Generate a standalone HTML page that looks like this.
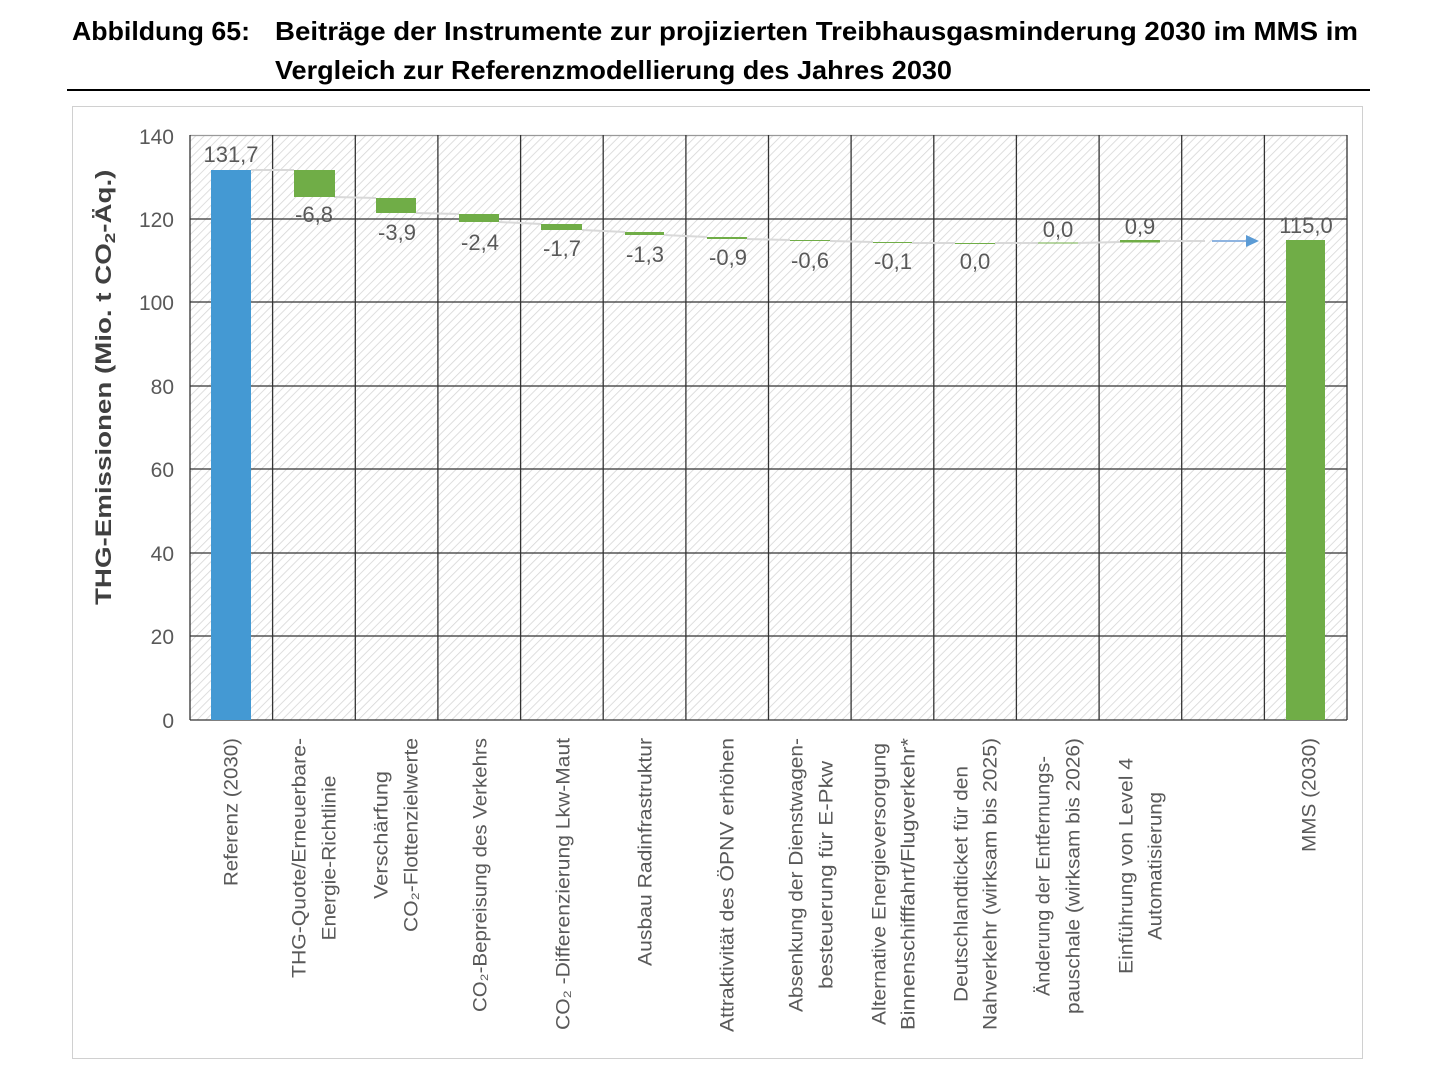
<!DOCTYPE html>
<html><head><meta charset="utf-8"><style>
html,body{margin:0;padding:0;background:#fff;}
svg{display:block;font-family:"Liberation Sans",sans-serif;}
</style></head><body>
<svg width="1440" height="1070" viewBox="0 0 1440 1070" xmlns="http://www.w3.org/2000/svg">
<defs>
<pattern id="h" patternUnits="userSpaceOnUse" width="6" height="6" patternTransform="rotate(45)">
<rect width="6" height="6" fill="#fff"/><line x1="0" y1="0" x2="0" y2="6" stroke="#d6d6d6" stroke-width="1.6"/>
</pattern>
</defs>
<text x="72" y="40" font-size="26" font-weight="bold" fill="#000" textLength="178" lengthAdjust="spacingAndGlyphs">Abbildung 65:</text>
<text x="275" y="40" font-size="26" font-weight="bold" fill="#000" textLength="1083" lengthAdjust="spacingAndGlyphs">Beiträge der Instrumente zur projizierten Treibhausgasminderung 2030 im MMS im</text>
<text x="275" y="79" font-size="26" font-weight="bold" fill="#000" textLength="677" lengthAdjust="spacingAndGlyphs">Vergleich zur Referenzmodellierung des Jahres 2030</text>
<rect x="67" y="89" width="1303" height="2" fill="#000"/>
<rect x="72.5" y="106.5" width="1290" height="952" fill="#fff" stroke="#d0d0d0"/>
<rect x="190" y="135" width="1157" height="585" fill="url(#h)"/>
<g stroke="#333" stroke-width="1.3">
<line x1="190" y1="135.5" x2="1347" y2="135.5" stroke="#999"/>
<line x1="190" y1="219" x2="1347" y2="219"/>
<line x1="190" y1="302" x2="1347" y2="302"/>
<line x1="190" y1="386" x2="1347" y2="386"/>
<line x1="190" y1="469" x2="1347" y2="469"/>
<line x1="190" y1="553" x2="1347" y2="553"/>
<line x1="190" y1="636" x2="1347" y2="636"/>
<line x1="190" y1="720" x2="1347" y2="720"/>
<line x1="190" y1="135" x2="190" y2="720"/>
<line x1="272.6" y1="135" x2="272.6" y2="720"/>
<line x1="355.3" y1="135" x2="355.3" y2="720"/>
<line x1="437.9" y1="135" x2="437.9" y2="720"/>
<line x1="520.6" y1="135" x2="520.6" y2="720"/>
<line x1="603.2" y1="135" x2="603.2" y2="720"/>
<line x1="685.9" y1="135" x2="685.9" y2="720"/>
<line x1="768.5" y1="135" x2="768.5" y2="720"/>
<line x1="851.1" y1="135" x2="851.1" y2="720"/>
<line x1="933.8" y1="135" x2="933.8" y2="720"/>
<line x1="1016.4" y1="135" x2="1016.4" y2="720"/>
<line x1="1099.1" y1="135" x2="1099.1" y2="720"/>
<line x1="1181.7" y1="135" x2="1181.7" y2="720"/>
<line x1="1264.4" y1="135" x2="1264.4" y2="720"/>
<line x1="1347" y1="135" x2="1347" y2="720"/>
</g>
<g stroke="#d9d9d9" stroke-width="2">
<line x1="251" y1="170" x2="294" y2="170"/>
<line x1="334" y1="197" x2="376" y2="198"/>
<line x1="416" y1="213" x2="459" y2="214"/>
<line x1="499" y1="222" x2="541" y2="224"/>
<line x1="582" y1="230" x2="625" y2="232"/>
<line x1="664" y1="235" x2="707" y2="237"/>
<line x1="747" y1="239" x2="790" y2="240"/>
<line x1="830" y1="241" x2="873" y2="242"/>
<line x1="912" y1="243" x2="955" y2="243"/>
<line x1="995" y1="243" x2="1038" y2="243"/>
<line x1="1078" y1="243" x2="1120" y2="242"/>
<line x1="1160" y1="241" x2="1205" y2="241"/>
</g>
<line x1="1212" y1="241" x2="1248" y2="241" stroke="#8fb4e0" stroke-width="2"/>
<polygon points="1246,235 1259,241 1246,247" fill="#5b9bd5"/>
<rect x="211" y="170" width="40" height="550" fill="#4499d3"/>
<g fill="#70ad47">
<rect x="294" y="170" width="41" height="27"/>
<rect x="376" y="198" width="40" height="15"/>
<rect x="459" y="214" width="40" height="8"/>
<rect x="541" y="224" width="41" height="6"/>
<rect x="625" y="232" width="39" height="3"/>
<rect x="707" y="237" width="40" height="2"/>
<rect x="790" y="240" width="40" height="1"/>
<rect x="873" y="242" width="39" height="1"/>
<rect x="955" y="243" width="40" height="1"/>
<rect x="1038" y="242.5" width="40" height="1"/>
<rect x="1120" y="240" width="40" height="2.5"/>
<rect x="1286" y="240" width="39" height="480"/>
</g>
<g font-size="22" fill="#595959" text-anchor="middle">
<text x="231" y="162">131,7</text>
<text x="314" y="222">-6,8</text>
<text x="397" y="240">-3,9</text>
<text x="480" y="250">-2,4</text>
<text x="562" y="256">-1,7</text>
<text x="645" y="262">-1,3</text>
<text x="728" y="265">-0,9</text>
<text x="810" y="268">-0,6</text>
<text x="893" y="269">-0,1</text>
<text x="975" y="269">0,0</text>
<text x="1058" y="237">0,0</text>
<text x="1140" y="234">0,9</text>
<text x="1306" y="233">115,0</text>
</g>
<g font-size="21" fill="#595959" text-anchor="end">
<text x="174" y="144">140</text>
<text x="174" y="227">120</text>
<text x="174" y="310">100</text>
<text x="174" y="394">80</text>
<text x="174" y="477">60</text>
<text x="174" y="561">40</text>
<text x="174" y="644">20</text>
<text x="174" y="728">0</text>
</g>
<text transform="translate(111,605) rotate(-90) scale(1.26,1)" font-size="22" font-weight="bold" fill="#404040">THG-Emissionen (Mio. t CO<tspan font-size="15" dy="4">2</tspan><tspan dy="-4">-Äq.)</tspan></text>
<g font-size="19" fill="#595959" text-anchor="middle" dominant-baseline="central">
<text transform="translate(232,812) rotate(-90)" textLength="148" lengthAdjust="spacingAndGlyphs">Referenz (2030)</text>
<text transform="translate(300,858) rotate(-90)" textLength="240" lengthAdjust="spacingAndGlyphs">THG-Quote/Erneuerbare-</text>
<text transform="translate(330,858) rotate(-90)" textLength="165" lengthAdjust="spacingAndGlyphs">Energie-Richtlinie</text>
<text transform="translate(382,835) rotate(-90)" textLength="128" lengthAdjust="spacingAndGlyphs">Verschärfung</text>
<text transform="translate(412,835) rotate(-90)" textLength="194" lengthAdjust="spacingAndGlyphs">CO₂-Flottenzielwerte</text>
<text transform="translate(481,875) rotate(-90)" textLength="274" lengthAdjust="spacingAndGlyphs">CO₂-Bepreisung des Verkehrs</text>
<text transform="translate(564,884) rotate(-90)" textLength="292" lengthAdjust="spacingAndGlyphs">CO₂ -Differenzierung Lkw-Maut</text>
<text transform="translate(646,852) rotate(-90)" textLength="228" lengthAdjust="spacingAndGlyphs">Ausbau Radinfrastruktur</text>
<text transform="translate(728,885) rotate(-90)" textLength="294" lengthAdjust="spacingAndGlyphs">Attraktivität des ÖPNV erhöhen</text>
<text transform="translate(797,875) rotate(-90)" textLength="274" lengthAdjust="spacingAndGlyphs">Absenkung der Dienstwagen-</text>
<text transform="translate(827,875) rotate(-90)" textLength="228" lengthAdjust="spacingAndGlyphs">besteuerung für E-Pkw</text>
<text transform="translate(880,884) rotate(-90)" textLength="282" lengthAdjust="spacingAndGlyphs">Alternative Energieversorgung</text>
<text transform="translate(909,884) rotate(-90)" textLength="292" lengthAdjust="spacingAndGlyphs">Binnenschifffahrt/Flugverkehr*</text>
<text transform="translate(962,884) rotate(-90)" textLength="236" lengthAdjust="spacingAndGlyphs">Deutschlandticket für den</text>
<text transform="translate(991,884) rotate(-90)" textLength="292" lengthAdjust="spacingAndGlyphs">Nahverkehr (wirksam bis 2025)</text>
<text transform="translate(1044,876) rotate(-90)" textLength="240" lengthAdjust="spacingAndGlyphs">Änderung der Entfernungs-</text>
<text transform="translate(1074,876) rotate(-90)" textLength="276" lengthAdjust="spacingAndGlyphs">pauschale (wirksam bis 2026)</text>
<text transform="translate(1127,866) rotate(-90)" textLength="216" lengthAdjust="spacingAndGlyphs">Einführung von Level 4</text>
<text transform="translate(1156,866) rotate(-90)" textLength="148" lengthAdjust="spacingAndGlyphs">Automatisierung</text>
<text transform="translate(1310,795) rotate(-90)" textLength="114" lengthAdjust="spacingAndGlyphs">MMS (2030)</text>
</g>
</svg>
</body></html>
